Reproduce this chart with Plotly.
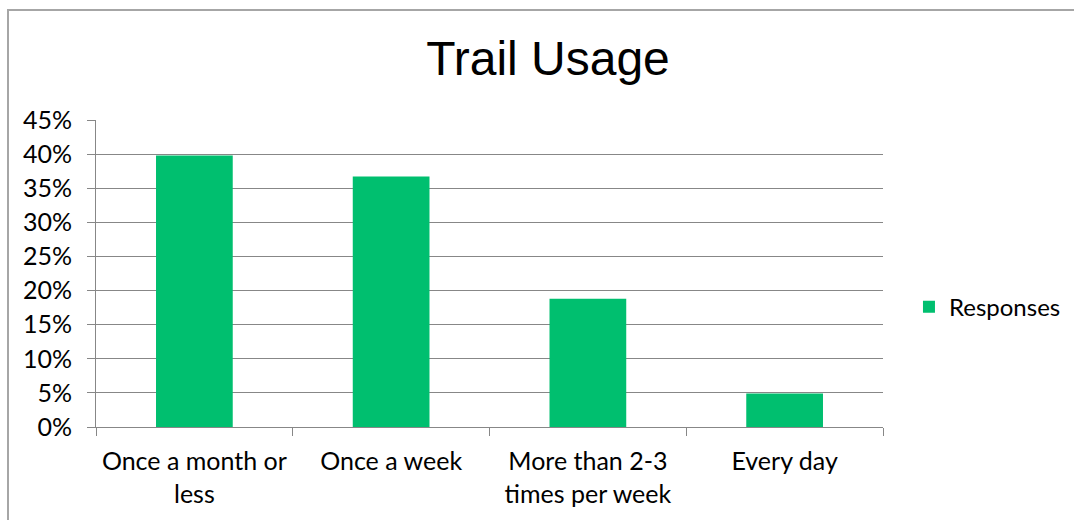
import plotly.graph_objects as go

# 数据
categories = ['Once a month or<br>less', 'Once a week', 'More than 2-3<br>times per week', 'Every day']
responses = [0.398, 0.367, 0.188, 0.049]
y_ticks = [0, 0.05, 0.10, 0.15, 0.20, 0.25, 0.30, 0.35, 0.40, 0.45]

BAR_COLOR = '#00BF6F'
GRID = '#878787'
FONT = 'Lato, Carlito, sans-serif'

fig = go.Figure()

fig.add_trace(go.Bar(
    x=categories,
    y=responses,
    name='Responses',
    marker=dict(color=BAR_COLOR, line=dict(width=0)),
))

fig.update_layout(
    width=1074,
    height=520,
    margin=dict(l=96, r=191, t=120, b=93, autoexpand=False),
    paper_bgcolor='white',
    plot_bgcolor='white',
    bargap=0.61,
    title=dict(
        text='Trail Usage',
        font=dict(family='Liberation Sans, Arial, sans-serif', size=48, color='black'),
        x=548 / 1074, xanchor='center',
        y=1 - 58 / 520, yanchor='middle',
    ),
    font=dict(family=FONT, size=25, color='black'),
    showlegend=True,
    legend=dict(
        x=1.033, xanchor='left',
        y=0.39, yanchor='middle',
        font=dict(family=FONT, size=24, color='black'),
        itemwidth=30,
        bgcolor='rgba(0,0,0,0)',
    ),
    # 外框
    shapes=[dict(
        type='rect', xref='paper', yref='paper',
        x0=(8 - 96) / 787, x1=(1090 - 96) / 787,
        y0=(427 - 530) / 307, y1=(427 - 10) / 307,
        line=dict(color='#A6A6A6', width=2),
        fillcolor='rgba(0,0,0,0)',
        layer='below',
    )],
)

fig.update_xaxes(
    automargin=False,
    showline=True, linecolor=GRID, linewidth=1,
    ticks='outside', tickson='boundaries', ticklen=8, tickcolor=GRID,
    ticklabelstandoff=12,
    showgrid=False,
    tickfont=dict(family=FONT, size=25, color='black'),
)
fig.update_yaxes(
    automargin=False,
    range=[0, 0.45],
    tickvals=y_ticks,
    tickformat='.0%',
    showline=True, linecolor=GRID, linewidth=1,
    ticks='outside', ticklen=8, tickcolor=GRID,
    ticklabelstandoff=10,
    showgrid=True, gridcolor=GRID, gridwidth=1,
    zeroline=False,
    tickfont=dict(family=FONT, size=25, color='black'),
)

# 去掉页面默认边距
fig.write_html(
    'out.html',
    config={'displayModeBar': False},
    post_script="document.body.style.margin='0';document.body.style.overflow='hidden';",
)
